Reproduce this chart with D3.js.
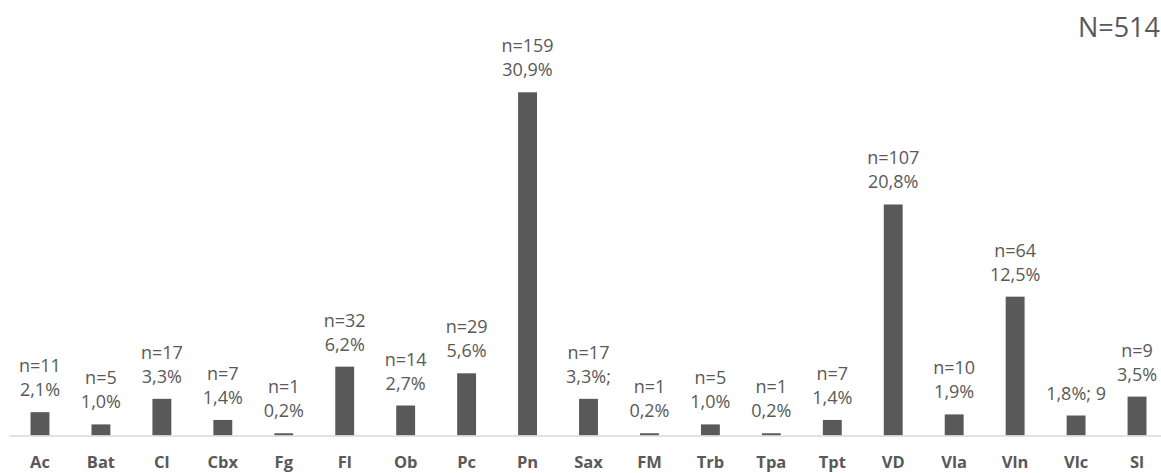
<!DOCTYPE html>
<html>
<head>
<meta charset="utf-8">
<script src="https://cdn.jsdelivr.net/npm/d3@7"></script>
<style>
  html, body { margin: 0; padding: 0; background: #fff; }
  svg { display: block; font-family: "Open Sans", "Noto Sans", sans-serif; }
</style>
</head>
<body>
<svg id="chart" width="1161" height="473"></svg>
<script>
// Instruments and their share of the 514 respondents
const categories = ["Ac", "Bat", "Cl", "Cbx", "Fg", "Fl", "Ob", "Pc", "Pn", "Sax",
                    "FM", "Trb", "Tpa", "Tpt", "VD", "Vla", "Vln", "Vlc", "Sl"];
const counts = [11, 5, 17, 7, 1, 32, 14, 29, 159, 17, 1, 5, 1, 7, 107, 10, 64, 9, 9];
const shares = [2.1, 1.0, 3.3, 1.4, 0.2, 6.2, 2.7, 5.6, 30.9, 3.3, 0.2, 1.0, 0.2, 1.4, 20.8, 1.9, 12.5, 1.8, 3.5];
const totalLabel = "N=514";

// Labels that were typed differently from the default "n=…" / "…%" pair
const customLabels = {
  Sax: ["n=17", "3,3%;"],
  Vlc: ["1,8%; 9"]
};

const W = 1161, H = 473;
const baseY = 435.5;
const svg = d3.select("#chart");

const x = d3.scaleBand()
  .domain(categories)
  .range([9.5, 1167.5])
  .paddingInner(0.69)
  .paddingOuter(0.345);

const y = d3.scaleLinear()
  .domain([0, 30.9])
  .range([baseY, 92.3]);

const fmtPct = v => d3.format(".1f")(v).replace(".", ",") + "%";

const data = categories.map((c, i) => ({
  cat: c,
  n: counts[i],
  pct: shares[i],
  lines: customLabels[c] || ["n=" + counts[i], fmtPct(shares[i])]
}));

// Bars
svg.append("g")
  .selectAll("rect")
  .data(data)
  .join("rect")
  .attr("x", d => x(d.cat))
  .attr("width", x.bandwidth())
  .attr("y", d => y(d.pct))
  .attr("height", d => baseY - y(d.pct))
  .attr("fill", "#595959");

// Category axis
const axis = svg.append("g")
  .attr("transform", `translate(0,${baseY + 0.5})`)
  .call(d3.axisBottom(x).tickSize(0).tickSizeOuter(0));
axis.select(".domain")
  .attr("stroke", "#d9d9d9")
  .attr("stroke-width", 1.5)
  .attr("d", `M9.5,0H${W}`);
axis.selectAll(".tick text")
  .attr("y", 32)
  .attr("dy", null)
  .attr("fill", "#595959")
  .style("font-family", "'Open Sans', 'Noto Sans', sans-serif")
  .style("font-size", "16.5px")
  .style("font-weight", "bold");

// Value labels above each bar
const labels = svg.append("g")
  .selectAll("text")
  .data(data)
  .join("text")
  .attr("text-anchor", "middle")
  .attr("fill", "#595959")
  .style("font-size", "18px");

labels.each(function(d) {
  const t = d3.select(this);
  const top = y(d.pct);
  const n = d.lines.length;
  d.lines.forEach((line, k) => {
    t.append("tspan")
      .attr("x", x(d.cat) + x.bandwidth() / 2)
      .attr("y", top - 16 - (n - 1 - k) * 24)
      .text(line);
  });
});

// Total sample size
svg.append("text")
  .attr("x", 1160)
  .attr("y", 37)
  .attr("text-anchor", "end")
  .attr("fill", "#595959")
  .style("font-size", "27px")
  .text(totalLabel);
</script>
</body>
</html>
